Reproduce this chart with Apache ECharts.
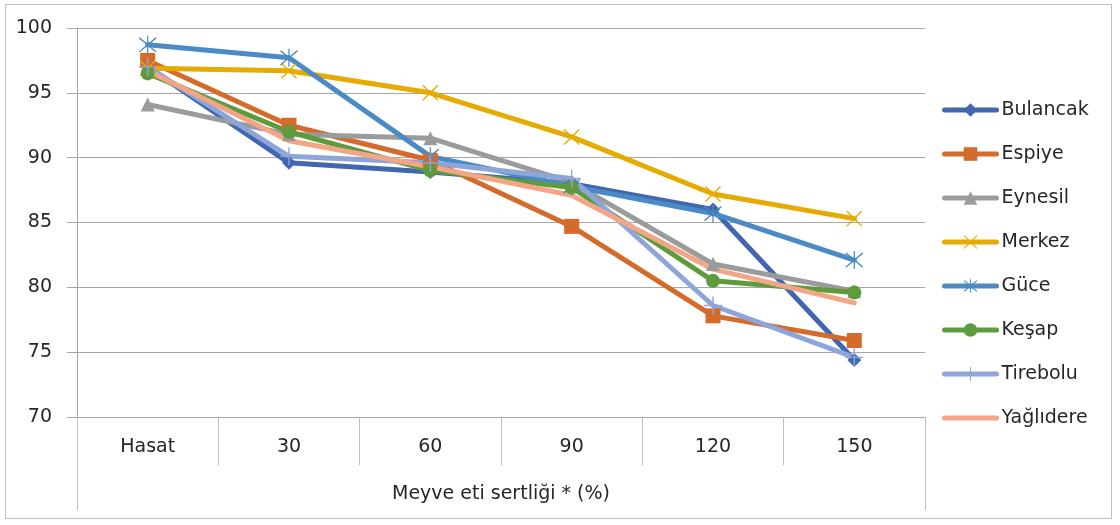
<!DOCTYPE html>
<html>
<head>
<meta charset="utf-8">
<script src="https://cdn.jsdelivr.net/npm/echarts@6/dist/echarts.min.js"></script>
<style>
html,body{margin:0;padding:0;background:#fff;}
#wrap{position:relative;width:1120px;height:525px;}
#frame{position:absolute;left:5px;top:4px;width:1107px;height:515px;border:1px solid #BFBFBF;box-sizing:border-box;}
#chart{position:absolute;left:0;top:0;width:1120px;height:525px;}
</style>
</head>
<body>
<div id="wrap"><div id="frame"></div><div id="chart"></div></div>
<script>
const categories = ['Hasat', '30', '60', '90', '120', '150'];
const axisTitle = 'Meyve eti sertliği * (%)';
const seriesNames = ['Bulancak', 'Espiye', 'Eynesil', 'Merkez', 'Güce', 'Keşap', 'Tirebolu', 'Yağlıdere'];
const bulancak  = [97.0, 89.6, 88.9, 88.0, 86.0, 74.4];
const espiye    = [97.5, 92.5, 89.8, 84.7, 77.8, 75.9];
const eynesil   = [94.1, 91.8, 91.5, 88.1, 81.8, 79.7];
const merkez    = [96.9, 96.7, 95.0, 91.6, 87.2, 85.3];
const guce      = [98.7, 97.7, 90.1, 87.8, 85.7, 82.1];
const kesap     = [96.5, 92.0, 89.0, 87.7, 80.5, 79.6];
const tirebolu  = [97.0, 90.1, 89.6, 88.4, 78.6, 74.6];
const yaglidere = [96.7, 91.3, 89.3, 87.1, 81.4, 78.8];
const yTicks = [70, 75, 80, 85, 90, 95, 100];

const seriesData = [bulancak, espiye, eynesil, merkez, guce, kesap, tirebolu, yaglidere];
const colors = ['#4067B0', '#D46B2B', '#9B9B9B', '#E5AB00', '#4A8BC6', '#5E9B3C', '#8EA5DA', '#F2A685'];

const X_PATH = 'path://M0,1.2L1.2,0L20,18.8L18.8,20Z M18.8,0L20,1.2L1.2,20L0,18.8Z';
const STAR_PATH = 'path://M0,1.2L1.2,0L20,18.8L18.8,20Z M18.8,0L20,1.2L1.2,20L0,18.8Z M9.3,-2L10.7,-2L10.7,22L9.3,22Z';
const PLUS_PATH = 'path://M9.2,0L10.8,0L10.8,20L9.2,20Z M0,9.2L20,9.2L20,10.8L0,10.8Z';
const symbols = ['diamond', 'rect', 'triangle', X_PATH, STAR_PATH, 'circle', PLUS_PATH, 'none'];
const symbolSizes = [14, 15, 14, 16, 18, 14, 18, 0];

const FONT = 'DejaVu Sans';
const TXT = '#262626';

const chart = echarts.init(document.getElementById('chart'), null, {renderer: 'canvas'});

const series = seriesNames.map((name, i) => ({
  name: name,
  type: 'line',
  data: seriesData[i],
  symbol: symbols[i],
  symbolSize: symbolSizes[i],
  showAllSymbol: true,
  lineStyle: {color: colors[i], width: 5, cap: 'round', join: 'round'},
  itemStyle: symbols[i] === 'none' ? {color: colors[i], opacity: 0} : {color: colors[i]},
  emphasis: {disabled: true},
  animation: false
}));

chart.setOption({
  animation: false,
  color: colors,
  grid: {left: 77, right: 195, top: 28, bottom: 108, containLabel: false},
  legend: {
    orient: 'vertical',
    left: 942,
    top: 100,
    padding: 0,
    itemWidth: 52,
    itemHeight: 17,
    itemGap: 24,
    data: seriesNames,
    lineStyle: {width: 5, cap: 'round'},
    textStyle: {fontFamily: FONT, fontSize: 19, color: TXT, lineHeight: 20}
  },
  xAxis: [
    {
      type: 'category',
      data: categories,
      boundaryGap: true,
      axisLine: {show: true, lineStyle: {color: '#A6A6A6', width: 1}},
      axisTick: {show: true, interval: 0, length: 48, lineStyle: {color: '#BFBFBF', width: 1}},
      axisLabel: {fontFamily: FONT, fontSize: 19, color: TXT, margin: 21, interval: 0},
      splitLine: {show: false}
    },
    {
      type: 'category',
      data: [axisTitle],
      position: 'bottom',
      boundaryGap: true,
      axisLine: {show: false},
      axisTick: {show: true, length: 93, lineStyle: {color: '#BFBFBF', width: 1}},
      axisLabel: {fontFamily: FONT, fontSize: 19, color: TXT, margin: 68},
      splitLine: {show: false}
    }
  ],
  yAxis: {
    type: 'value',
    min: yTicks[0],
    max: yTicks[yTicks.length - 1],
    interval: 5,
    axisLine: {show: true, lineStyle: {color: '#A6A6A6', width: 1}},
    axisTick: {show: true, length: 10, lineStyle: {color: '#A6A6A6', width: 1}},
    axisLabel: {fontFamily: FONT, fontSize: 19, color: TXT, margin: 25},
    splitLine: {show: true, lineStyle: {color: '#A8A8A8', width: 1}}
  },
  series: series
});
</script>
</body>
</html>
